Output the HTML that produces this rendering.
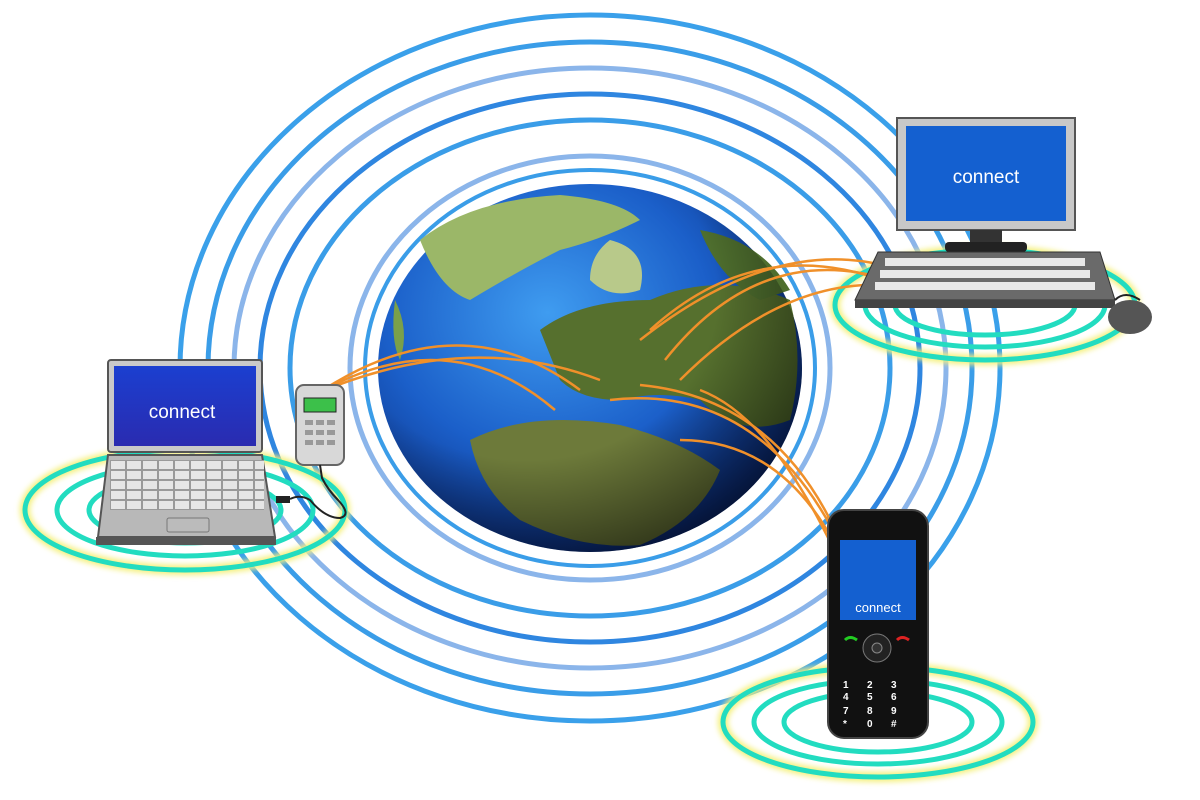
<!DOCTYPE html>
<html><head><meta charset="utf-8"><style>html,body{margin:0;padding:0;background:#fff}svg{display:block}</style></head><body>
<svg width="1200" height="800" viewBox="0 0 1200 800" xmlns="http://www.w3.org/2000/svg">
<defs>
<radialGradient id="globe" cx="40%" cy="35%" r="70%">
<stop offset="0" stop-color="#3f9cf0"/><stop offset="0.55" stop-color="#1b5fc9"/><stop offset="1" stop-color="#0a2a7a"/></radialGradient>
<radialGradient id="shade" cx="35%" cy="30%" r="75%">
<stop offset="0.6" stop-color="#000" stop-opacity="0"/><stop offset="1" stop-color="#000" stop-opacity="0.55"/></radialGradient>
<linearGradient id="scr" x1="0" y1="0" x2="0" y2="1"><stop offset="0" stop-color="#1b3fd0"/><stop offset="1" stop-color="#2a2bb0"/></linearGradient>
<filter id="glow"><feGaussianBlur stdDeviation="3"/></filter>
<pattern id="keys" x="110" y="460" width="16" height="10" patternUnits="userSpaceOnUse"><rect x="0.5" y="0.5" width="15" height="9" fill="#e6e6e6" stroke="#9a9a9a" stroke-width="1"/></pattern>
</defs>
<g fill="none">
<ellipse cx="590" cy="368" rx="410" ry="353" stroke="#3aa0ea" stroke-width="5"/>
<ellipse cx="590" cy="368" rx="382" ry="326" stroke="#3a9de8" stroke-width="5"/>
<ellipse cx="590" cy="368" rx="356" ry="300" stroke="#8bb5ea" stroke-width="5"/>
<ellipse cx="590" cy="368" rx="330" ry="274" stroke="#2f86e0" stroke-width="5"/>
<ellipse cx="590" cy="368" rx="300" ry="248" stroke="#3a9de8" stroke-width="5"/>
<ellipse cx="590" cy="368" rx="240" ry="212" stroke="#8bb5ea" stroke-width="5"/>
<ellipse cx="590" cy="368" rx="225" ry="198" stroke="#3a9de8" stroke-width="4"/>
</g>
<ellipse cx="590" cy="368" rx="212" ry="184" fill="url(#globe)"/>
<g>
<path d="M420 240 Q470 200 560 195 Q620 200 640 220 Q600 240 560 250 Q520 270 470 300 Q440 290 420 240Z" fill="#9bb768"/>
<path d="M610 240 Q650 250 640 290 Q610 300 590 280 Q590 255 610 240Z" fill="#b8c98a"/>
<path d="M540 330 Q580 300 650 300 Q720 270 790 300 Q805 360 790 420 Q740 440 700 400 Q660 390 620 400 Q580 400 560 380 Z" fill="#56702e"/>
<path d="M470 440 Q530 410 620 425 Q680 440 720 470 Q700 520 640 545 Q580 550 520 520 Q480 490 470 440Z" fill="#6d7a3a"/>
<path d="M700 230 Q760 240 790 290 L760 300 Q720 280 700 230Z" fill="#4e6e2e"/>
<path d="M395 300 Q410 330 400 360 Q390 340 395 300Z" fill="#7aa04a"/>
</g>
<ellipse cx="590" cy="368" rx="212" ry="184" fill="url(#shade)"/>
<g fill="none" stroke="#22dcc0" stroke-width="5">
<g filter="url(#glow)" stroke="#f4f07a" stroke-width="10"><ellipse cx="185" cy="510" rx="160" ry="60"/><ellipse cx="985" cy="305" rx="150" ry="55"/><ellipse cx="878" cy="722" rx="155" ry="55"/></g>
<ellipse cx="185" cy="510" rx="160" ry="60"/><ellipse cx="185" cy="510" rx="128" ry="46"/><ellipse cx="185" cy="510" rx="96" ry="33"/>
<ellipse cx="985" cy="305" rx="150" ry="55"/><ellipse cx="985" cy="305" rx="120" ry="42"/><ellipse cx="985" cy="305" rx="90" ry="30"/>
<ellipse cx="878" cy="722" rx="155" ry="55"/><ellipse cx="878" cy="722" rx="124" ry="42"/><ellipse cx="878" cy="722" rx="94" ry="30"/>
</g>
<g fill="none" stroke="#f0902a" stroke-width="2.5">
<path d="M320 392 Q450 320 555 410"/><path d="M320 392 Q460 300 580 390"/><path d="M320 392 Q470 330 600 380"/>
<path d="M650 330 Q760 230 895 285"/><path d="M665 360 Q760 240 890 280"/><path d="M680 380 Q780 280 885 285"/><path d="M640 340 Q780 230 900 270"/>
<path d="M610 400 Q780 380 860 590"/><path d="M640 385 Q800 400 858 590"/><path d="M680 440 Q800 440 855 590"/><path d="M700 390 Q780 420 852 590"/>
</g>
<rect x="897" y="118" width="178" height="112" fill="#c8c8c8" stroke="#555" stroke-width="2"/>
<rect x="906" y="126" width="160" height="95" fill="#1460d0"/>
<text x="986" y="183" font-family="Liberation Sans,sans-serif" font-size="19" fill="#fff" text-anchor="middle">connect</text>
<rect x="970" y="230" width="32" height="14" fill="#333"/><rect x="945" y="242" width="82" height="10" rx="4" fill="#222"/>
<path d="M878 252 L1100 252 L1115 300 L855 300 Z" fill="#6a6a6a" stroke="#333"/>
<g fill="#e8e8e8"><rect x="885" y="258" width="200" height="8"/><rect x="880" y="270" width="210" height="8"/><rect x="875" y="282" width="220" height="8"/></g>
<rect x="855" y="300" width="260" height="8" fill="#444"/>
<ellipse cx="1130" cy="317" rx="22" ry="17" fill="#555"/><path d="M1115 300 Q1125 290 1140 300" stroke="#222" fill="none" stroke-width="2"/>
<rect x="108" y="360" width="154" height="92" rx="3" fill="#c9c9c9" stroke="#555" stroke-width="2"/>
<rect x="114" y="366" width="142" height="80" fill="url(#scr)"/>
<text x="182" y="418" font-family="Liberation Sans,sans-serif" font-size="19" fill="#fff" text-anchor="middle">connect</text>
<path d="M108 455 L262 455 L275 537 L98 537 Z" fill="#b8b8b8" stroke="#555" stroke-width="2"/>
<rect x="110" y="460" width="154" height="50" fill="url(#keys)"/>
<rect x="167" y="518" width="42" height="14" rx="2" fill="#bbb" stroke="#777"/>
<rect x="96" y="537" width="180" height="8" fill="#555"/>
<rect x="276" y="496" width="14" height="7" fill="#222"/>
<rect x="296" y="385" width="48" height="80" rx="8" fill="#d8d8d8" stroke="#666" stroke-width="2"/>
<rect x="304" y="398" width="32" height="14" fill="#3cc04a" stroke="#222"/>
<g fill="#999"><rect x="305" y="420" width="8" height="5"/><rect x="316" y="420" width="8" height="5"/><rect x="327" y="420" width="8" height="5"/><rect x="305" y="430" width="8" height="5"/><rect x="316" y="430" width="8" height="5"/><rect x="327" y="430" width="8" height="5"/><rect x="305" y="440" width="8" height="5"/><rect x="316" y="440" width="8" height="5"/><rect x="327" y="440" width="8" height="5"/></g>
<path d="M320 465 L322 478 Q328 490 338 500 Q352 515 340 518 Q325 518 310 500 Q300 494 290 499" stroke="#222" stroke-width="2" fill="none"/>
<rect x="828" y="510" width="100" height="228" rx="16" fill="#111" stroke="#444" stroke-width="2"/>
<rect x="840" y="540" width="76" height="80" fill="#1460d0"/>
<text x="878" y="612" font-family="Liberation Sans,sans-serif" font-size="13" fill="#fff" text-anchor="middle">connect</text>
<circle cx="877" cy="648" r="14" fill="#222" stroke="#777"/><circle cx="877" cy="648" r="5" fill="#333" stroke="#888"/>
<g font-family="Liberation Sans,sans-serif" font-size="10" fill="#fff" font-weight="bold">
<text x="843" y="688">1</text><text x="867" y="688">2</text><text x="891" y="688">3</text>
<text x="843" y="700">4</text><text x="867" y="700">5</text><text x="891" y="700">6</text>
<text x="843" y="714">7</text><text x="867" y="714">8</text><text x="891" y="714">9</text>
<text x="843" y="727">*</text><text x="867" y="727">0</text><text x="891" y="727">#</text></g>
<path d="M845 640 q5 -5 12 0" stroke="#2c2" stroke-width="3" fill="none"/><path d="M897 640 q5 -5 12 0" stroke="#d22" stroke-width="3" fill="none"/>
</svg>
</body></html>
